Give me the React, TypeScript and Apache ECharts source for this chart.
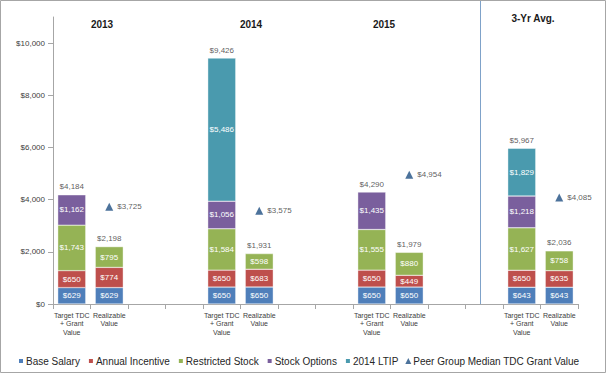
import React, { useEffect, useRef } from "react";
import * as echarts from "echarts";

const TGT = "Target TDC\n+ Grant\nValue";
const REAL = "Realizable\nValue";
const categories = [TGT, REAL, "", "", TGT, REAL, "", "", TGT, REAL, "", "", TGT, REAL];

const baseSalary = [629, 629, null, null, 650, 650, null, null, 650, 650, null, null, 643, 643];
const annualIncentive = [650, 774, null, null, 650, 683, null, null, 650, 449, null, null, 650, 635];
const restrictedStock = [1743, 795, null, null, 1584, 598, null, null, 1555, 880, null, null, 1627, 758];
const stockOptions = [1162, null, null, null, 1056, null, null, null, 1435, null, null, null, 1218, null];
const ltip2014 = [null, null, null, null, 5486, null, null, null, null, null, null, null, 1829, null];
const totals = [4184, 2198, null, null, 9426, 1931, null, null, 4290, 1979, null, null, 5967, 2036];
const peerMedian = [null, 3725, null, null, null, 3575, null, null, null, 4954, null, null, null, 4085];

const yTicks = [0, 2000, 4000, 6000, 8000, 10000];
const periodHeaders = ["2013", "2014", "2015", "3-Yr Avg."];

const FONT = "'Liberation Sans', Arial, sans-serif";
const fmt = (v: number) => "$" + Number(v).toLocaleString("en-US");

const COLORS = {
  base: "#4f7fba",
  annual: "#be4f4c",
  restricted: "#95b355",
  options: "#7a5f9d",
  ltip: "#4a9aae",
  peer: "#1f4f82",
};

export default function App() {
  const ref = useRef<HTMLDivElement>(null);
  useEffect(() => {
    document.body.style.margin = "0";
    const chart = echarts.init(ref.current as HTMLDivElement, null, {
      renderer: "svg",
      width: 606,
      height: 373,
    });
    const segLabel = {
      show: true,
      position: "inside",
      color: "#ffffff",
      fontSize: 8,
      fontFamily: FONT,
      formatter: (p: any) => (p.value == null ? "" : fmt(p.value)),
    };
    const barSeries = (name: string, data: any[], color: string) => ({
      name,
      type: "bar",
      stack: "comp",
      data,
      barWidth: 28,
      itemStyle: { color, borderColor: "#ffffff", borderWidth: 0.4 },
      label: segLabel,
    });
    const headerPos = [
      { x: 102, y: 24 },
      { x: 251, y: 24 },
      { x: 384, y: 24 },
      { x: 533, y: 18 },
    ];
    chart.setOption({
      animation: false,
      textStyle: { fontFamily: FONT },
      grid: { left: 53, right: 28, top: 17, bottom: 69 },
      legend: {
        top: 351,
        left: 12,
        itemWidth: 6,
        itemHeight: 6,
        itemGap: 7,
        textStyle: { fontSize: 10, color: "#262626", fontFamily: FONT, padding: [0, 0, 0, -3] },
        data: [
          { name: "Base Salary", icon: "rect" },
          { name: "Annual Incentive", icon: "rect" },
          { name: "Restricted Stock", icon: "rect" },
          { name: "Stock Options", icon: "rect" },
          { name: "2014 LTIP", icon: "rect" },
          { name: "Peer Group Median TDC Grant Value", icon: "triangle" },
        ],
      },
      xAxis: {
        type: "category",
        data: categories,
        axisLine: { lineStyle: { color: "#a6a6a6" } },
        axisTick: { show: true, alignWithLabel: false, length: 5, lineStyle: { color: "#a6a6a6" }, interval: 0 },
        axisLabel: {
          interval: 0,
          fontSize: 7,
          lineHeight: 8.5,
          color: "#404040",
          fontFamily: FONT,
          margin: 7,
        },
      },
      yAxis: {
        type: "value",
        min: 0,
        max: 11000,
        interval: 2000,
        splitLine: { show: false },
        axisLine: { show: true, lineStyle: { color: "#a6a6a6" } },
        axisTick: { show: true, length: 5, lineStyle: { color: "#a6a6a6" }, customValues: yTicks },
        axisLabel: {
          fontSize: 8,
          color: "#404040",
          fontFamily: FONT,
          margin: 8,
          customValues: yTicks,
          formatter: (v: number) => fmt(v),
        },
      },
      series: [
        barSeries("Base Salary", baseSalary, COLORS.base),
        barSeries("Annual Incentive", annualIncentive, COLORS.annual),
        barSeries("Restricted Stock", restrictedStock, COLORS.restricted),
        barSeries("Stock Options", stockOptions, COLORS.options),
        barSeries("2014 LTIP", ltip2014, COLORS.ltip),
        {
          name: "Totals",
          type: "scatter",
          data: totals,
          symbolSize: 0,
          silent: true,
          label: {
            show: true,
            position: "top",
            distance: 4,
            color: "#333333",
            fontSize: 8,
            fontFamily: FONT,
            formatter: (p: any) => (p.value == null ? "" : fmt(p.value)),
          },
        },
        {
          name: "Peer Group Median TDC Grant Value",
          type: "scatter",
          data: peerMedian,
          symbol: "triangle",
          symbolSize: [8, 8],
          itemStyle: { color: COLORS.peer },
          label: {
            show: true,
            position: "right",
            distance: 4,
            color: "#333333",
            fontSize: 8,
            fontFamily: FONT,
            formatter: (p: any) => (p.value == null ? "" : fmt(p.value)),
          },
        },
      ],
      graphic: [
        {
          type: "rect",
          shape: { x: 0.5, y: 0.5, width: 605, height: 372 },
          style: { fill: "none", stroke: "#a6a6a6", lineWidth: 1 },
          silent: true,
        },
        {
          type: "line",
          shape: { x1: 480.5, y1: 1, x2: 480.5, y2: 305 },
          style: { stroke: "#7fa2c9", lineWidth: 1 },
          silent: true,
        },
        ...periodHeaders.map((t, i) => ({
          type: "text",
          x: headerPos[i].x,
          y: headerPos[i].y,
          style: {
            text: t,
            fill: "#1a1a1a",
            font: `bold 10px ${FONT}`,
            textAlign: "center",
            textVerticalAlign: "middle",
          },
        })),
      ],
    });
    return () => chart.dispose();
  }, []);
  return <div ref={ref} style={{ width: 606, height: 373 }} />;
}
